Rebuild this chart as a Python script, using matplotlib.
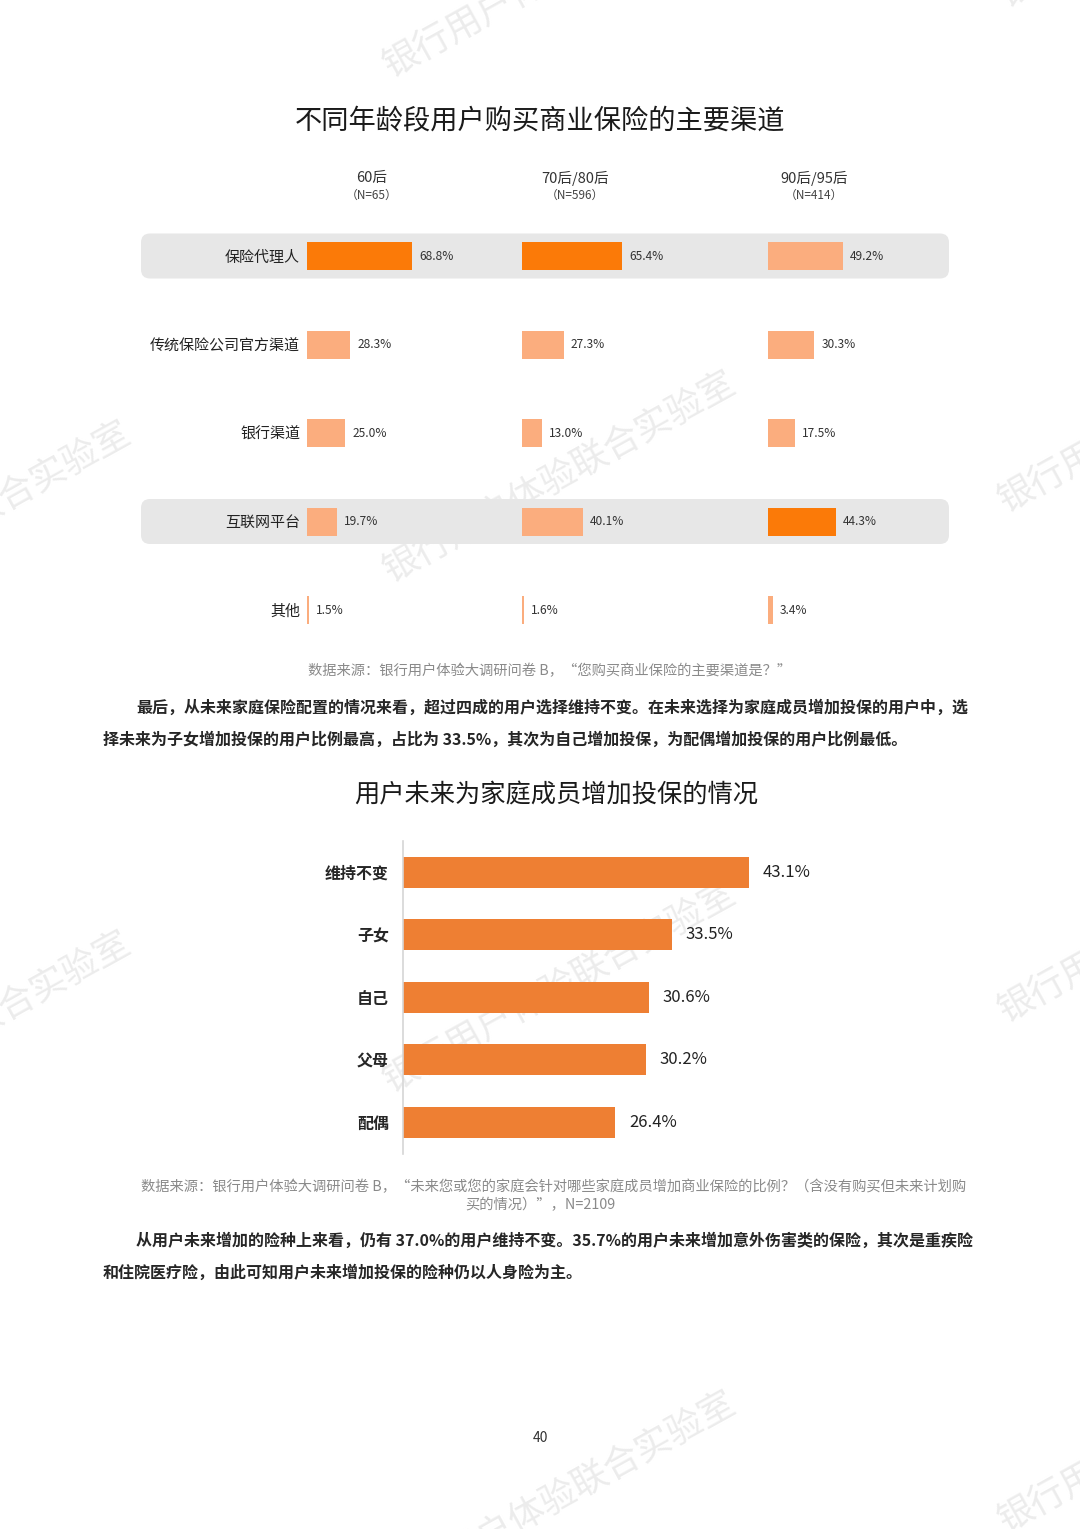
import numpy as np
import matplotlib
matplotlib.use("Agg")
import matplotlib.pyplot as plt
from matplotlib.patches import FancyBboxPatch

plt.rcParams['font.family'] = ['Noto Sans CJK SC', 'DejaVu Sans']

# ---- data: chart 1 (channels by age group) ----
channels = ['保险代理人', '传统保险公司官方渠道', '银行渠道', '互联网平台', '其他']
groups = ['60后', '70后/80后', '90后/95后']
group_n = ['（N=65）', '（N=596）', '（N=414）']
share_60 = [68.8, 28.3, 25.0, 19.7, 1.5]
share_7080 = [65.4, 27.3, 13.0, 40.1, 1.6]
share_9095 = [49.2, 30.3, 17.5, 44.3, 3.4]
# cells drawn in the dark orange (row, column)
dark_cells = [(0, 0), (0, 1), (3, 2)]
# rows with grey band
band_rows = [0, 3]

# ---- data: chart 2 (future extra insurance) ----
members = ['维持不变', '子女', '自己', '父母', '配偶']
member_share = [43.1, 33.5, 30.6, 30.2, 26.4]

title1 = '不同年龄段用户购买商业保险的主要渠道'
title2 = '用户未来为家庭成员增加投保的情况'
source1 = '数据来源：银行用户体验大调研问卷 B，“您购买商业保险的主要渠道是？”'
para1 = ['最后，从未来家庭保险配置的情况来看，超过四成的用户选择维持不变。在未来选择为家庭成员增加投保的用户中，选',
         '择未来为子女增加投保的用户比例最高，占比为 33.5%，其次为自己增加投保，为配偶增加投保的用户比例最低。']
source2 = ['数据来源：银行用户体验大调研问卷 B，“未来您或您的家庭会针对哪些家庭成员增加商业保险的比例？（含没有购买但未来计划购',
           '买的情况）”，N=2109']
para2 = ['从用户未来增加的险种上来看，仍有 37.0%的用户维持不变。35.7%的用户未来增加意外伤害类的保险，其次是重疾险',
         '和住院医疗险，由此可知用户未来增加投保的险种仍以人身险为主。']

W, H = 1080, 1529
DARK = '#fb7a08'
LIGHT = '#fbad7e'
ORANGE2 = '#ee7f33'
TEXT = '#262626'

fig = plt.figure(figsize=(W / 100, H / 100), dpi=100)
fig.patch.set_facecolor('white')


def box(x0, y0, w, h):
    return [x0 / W, 1 - (y0 + h) / H, w / W, h / H]


# page background axes in pixel units
bg = fig.add_axes([0, 0, 1, 1])
bg.set_xlim(0, W)
bg.set_ylim(H, 0)
bg.axis('off')

# faint watermark (partly off the page, as in the scan)
wm = '银行用户体验联合实验室'
for (x, y) in [(395, 590), (395, 1100), (395, 1610), (395, 85), (-210, 640), (-210, 1150),
               (1010, 520), (1010, 1030), (1010, 1540), (1010, 15)]:
    bg.text(x, y, wm, rotation=29, fontsize=26, color='#ececec', ha='left', va='bottom',
            rotation_mode='anchor', zorder=0, clip_on=True)

bg.text(540, 121, title1, fontsize=19.6, ha='center', va='center', color='#1a1a1a')

# grey bands behind highlighted rows
row_y = [256, 344.5, 433, 521.5, 610]
for r in band_rows:
    bg.add_patch(FancyBboxPatch((141, row_y[r] - 22.5), 808, 45,
                                boxstyle='round,pad=0,rounding_size=9',
                                facecolor='#e7e7e7', edgecolor='none', zorder=1))

# chart 1: three small bar columns
col_left = [307, 522, 768]
col_center = [372, 575, 814]
px_per_pct = 1.53
all_shares = [share_60, share_7080, share_9095]
ypos = np.arange(len(channels))
for c, shares in enumerate(all_shares):
    ax = fig.add_axes(box(col_left[c], 212, 200, 442.5))
    ax.patch.set_visible(False)
    colors = [DARK if (r, c) in dark_cells else LIGHT for r in range(len(channels))]
    ax.barh(ypos, shares, height=0.32, color=colors)
    ax.set_xlim(0, 200 / px_per_pct)
    ax.set_ylim(len(channels) - 0.5, -0.5)
    for s in ax.spines.values():
        s.set_visible(False)
    ax.set_xticks([])
    ax.tick_params(axis='y', length=0, pad=5)
    if c == 0:
        ax.set_yticks(ypos, channels, fontsize=10.8, color='#222222')
    else:
        ax.set_yticks([])
    for yy, v in zip(ypos, shares):
        ax.annotate(f'{v:.1f}%', (v, yy), xytext=(5, 0), textcoords='offset points',
                    va='center', ha='left', fontsize=8.6, color='#333333')
    bg.text(col_center[c], 178, groups[c], fontsize=10.5, ha='center', va='center', color='#333333')
    bg.text(col_center[c], 195, group_n[c], fontsize=8.5, ha='center', va='center', color='#444444')

bg.text(550, 671, source1, fontsize=10.3, ha='center', va='center', color='#8a8a8a')
bg.text(136, 708, para1[0], fontsize=11.5, ha='left', va='center', color=TEXT, fontweight='bold')
bg.text(103, 740, para1[1], fontsize=11.5, ha='left', va='center', color=TEXT, fontweight='bold')

bg.text(556, 795, title2, fontsize=18.2, ha='center', va='center', color='#1a1a1a')

# chart 2
ax2 = fig.add_axes(box(403, 841, 500, 312.5))
ax2.patch.set_visible(False)
y2 = np.arange(len(members))
ax2.barh(y2, member_share, height=0.5, color=ORANGE2)
ax2.set_xlim(0, 500 / 8.03)
ax2.set_ylim(len(members) - 0.5, -0.5)
for k in ['top', 'right', 'bottom']:
    ax2.spines[k].set_visible(False)
ax2.spines['left'].set_color('#d6d6d6')
ax2.spines['left'].set_linewidth(1.2)
ax2.set_xticks([])
ax2.set_yticks(y2, members, fontsize=11.5, color=TEXT, fontweight='bold')
ax2.tick_params(axis='y', length=0, pad=10)
for yy, v in zip(y2, member_share):
    ax2.annotate(f'{v:.1f}%', (v, yy), xytext=(10, 0), textcoords='offset points',
                 va='center', ha='left', fontsize=12, color='#222222')

bg.text(554, 1187, source2[0], fontsize=10.3, ha='center', va='center', color='#8a8a8a')
bg.text(540, 1205, source2[1], fontsize=10.3, ha='center', va='center', color='#8a8a8a')
bg.text(136, 1241, para2[0], fontsize=11.5, ha='left', va='center', color=TEXT, fontweight='bold')
bg.text(103, 1273, para2[1], fontsize=11.5, ha='left', va='center', color=TEXT, fontweight='bold')

bg.text(540, 1438, '40', fontsize=10, ha='center', va='center', color='#333333')

fig.savefig('out.png', dpi=100, facecolor='white')
